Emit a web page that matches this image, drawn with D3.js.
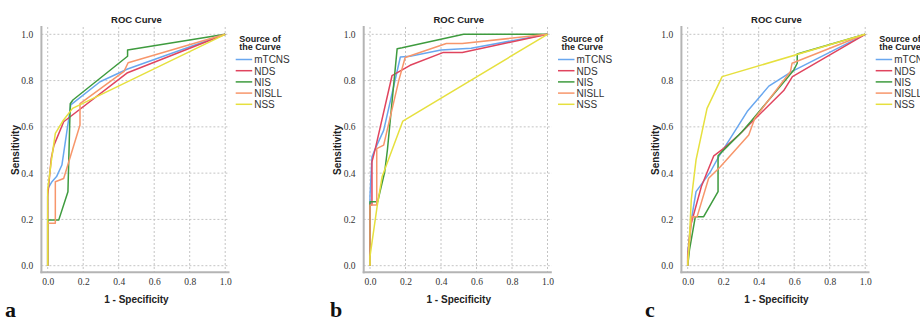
<!DOCTYPE html>
<html><head><meta charset="utf-8">
<script src="https://cdn.jsdelivr.net/npm/d3@7/dist/d3.min.js"></script>
<style>body{margin:0;background:#fff}svg{display:block}</style>
</head><body><svg id="c" width="920" height="320"></svg>
<script>
const seriesNames = ["mTCNS","NDS","NIS","NISLL","NSS"];
const seriesColors = ["#69a7ef","#e0445e","#3e9b3e","#f7966b","#e6e03e"];
const tickValues = [0,0.2,0.4,0.6,0.8,1.0];
const panelLetters = ["a","b","c"];

// Panel a  [1 - specificity, sensitivity]
const a_mTCNS = [[0,0],[0,0.33],[0.006,0.34],[0.024,0.363],[0.05,0.385],[0.08,0.435],[0.13,0.695],[0.295,0.795],[0.45,0.85],[1,1]];
const a_NDS   = [[0,0],[0,0.30],[0.02,0.464],[0.035,0.52],[0.09,0.622],[0.45,0.834],[1,1]];
const a_NIS   = [[0,0],[0,0.197],[0.062,0.197],[0.114,0.32],[0.127,0.70],[0.142,0.716],[0.45,0.905],[0.45,0.932],[1,1]];
const a_NISLL = [[0,0],[0,0.183],[0.043,0.183],[0.043,0.363],[0.09,0.377],[0.182,0.608],[0.182,0.70],[0.43,0.84],[0.453,0.877],[1,1]];
const a_NSS   = [[0,0],[0,0.33],[0.02,0.45],[0.043,0.572],[0.085,0.625],[0.14,0.68],[1,1]];
// Panel b
const b_mTCNS = [[0,0],[0,0.30],[0.011,0.47],[0.03,0.506],[0.077,0.585],[0.171,0.902],[0.226,0.905],[0.40,0.932],[0.57,0.94],[1,1]];
const b_NDS   = [[0,0],[0,0.262],[0.011,0.262],[0.011,0.449],[0.03,0.506],[0.124,0.821],[0.226,0.866],[0.41,0.921],[0.52,0.921],[1,1]];
const b_NIS   = [[0,0],[0,0.276],[0.043,0.276],[0.083,0.406],[0.098,0.50],[0.153,0.938],[0.181,0.942],[0.527,1],[1,1]];
const b_NISLL = [[0,0],[0,0.262],[0.038,0.262],[0.038,0.506],[0.077,0.521],[0.162,0.80],[0.198,0.90],[0.43,0.96],[0.52,0.96],[1,1]];
const b_NSS   = [[0,0],[0,0.04],[0.04,0.255],[0.068,0.384],[0.185,0.625],[1,1]];
// Panel c
const c_mTCNS = [[0,0],[0,0.05],[0.021,0.2],[0.047,0.32],[0.081,0.356],[0.128,0.406],[0.175,0.471],[0.335,0.666],[0.457,0.776],[0.588,0.84],[1,1]];
const c_NDS   = [[0,0],[0,0.04],[0.015,0.169],[0.077,0.342],[0.147,0.475],[0.203,0.507],[0.288,0.565],[0.363,0.622],[0.541,0.757],[0.59,0.817],[1,1]];
const c_NIS   = [[0,0],[0.01,0.068],[0.043,0.212],[0.09,0.212],[0.171,0.32],[0.171,0.475],[0.212,0.507],[0.306,0.579],[0.363,0.63],[0.598,0.846],[0.617,0.875],[0.617,0.915],[1,1]];
const c_NISLL = [[0,0],[0,0.024],[0.024,0.212],[0.053,0.212],[0.118,0.378],[0.184,0.428],[0.344,0.565],[0.378,0.637],[0.579,0.839],[0.588,0.875],[1,1]];
const c_NSS   = [[0,0],[0.009,0.11],[0.02,0.284],[0.047,0.457],[0.109,0.68],[0.194,0.817],[1,1]];

const panels = [
  {x0:47.7, letter:panelLetters[0], letterX:5, series:[a_mTCNS,a_NDS,a_NIS,a_NISLL,a_NSS]},
  {x0:370,  letter:panelLetters[1], letterX:330, series:[b_mTCNS,b_NDS,b_NIS,b_NISLL,b_NSS]},
  {x0:687.7,letter:panelLetters[2], letterX:645, series:[c_mTCNS,c_NDS,c_NIS,c_NISLL,c_NSS]}
];

const svg = d3.select("#c");
const W = 177.5, yTop = 34.3, yBot = 265.7, plotTop = 27, axisY = 272.3;
const sans = "'Liberation Sans', Arial, sans-serif";
const serif = "'Liberation Serif', 'Times New Roman', serif";

panels.forEach(p => {
  const x = d3.scaleLinear().domain([0,1]).range([p.x0, p.x0 + W]);
  const y = d3.scaleLinear().domain([0,1]).range([yBot, yTop]);
  const axisX = p.x0 - 6.3, right = p.x0 + W + 4.3;
  const g = svg.append("g");

  // grid
  g.selectAll(".gx").data(tickValues).join("line")
    .attr("x1", d=>x(d)).attr("x2", d=>x(d)).attr("y1", plotTop).attr("y2", axisY)
    .attr("stroke","#c4c4c4").attr("stroke-dasharray","2,2").attr("stroke-width",1);
  g.selectAll(".gy").data(tickValues).join("line")
    .attr("x1", axisX).attr("x2", right).attr("y1", d=>y(d)).attr("y2", d=>y(d))
    .attr("stroke","#c4c4c4").attr("stroke-dasharray","2,2").attr("stroke-width",1);

  // axis lines
  g.append("line").attr("x1",axisX).attr("x2",axisX).attr("y1",plotTop-1).attr("y2",axisY+1)
    .attr("stroke","#b4b4b4").attr("stroke-width",2);
  g.append("line").attr("x1",axisX-1).attr("x2",right).attr("y1",axisY).attr("y2",axisY)
    .attr("stroke","#b4b4b4").attr("stroke-width",2);

  // tick labels via d3 axes
  const ax = g.append("g").attr("transform",`translate(0,${axisY})`)
    .call(d3.axisBottom(x).tickValues(tickValues).tickFormat(d3.format(".1f")).tickSize(0).tickPadding(6));
  ax.select(".domain").remove();
  ax.attr("font-family",serif);
  ax.selectAll("text").style("font-family",serif).attr("font-size","9.5px").attr("fill","#333");
  const ay = g.append("g").attr("transform",`translate(${p.x0-14.5},0)`)
    .call(d3.axisLeft(y).tickValues(tickValues).tickFormat(d3.format(".1f")).tickSize(0).tickPadding(0));
  ay.select(".domain").remove();
  ay.attr("font-family",serif);
  ay.selectAll("text").style("font-family",serif).attr("font-size","9.5px").attr("fill","#333");

  // curves
  const line = d3.line().x(d=>x(d[0])).y(d=>y(d[1]));
  p.series.forEach((s,i) => {
    g.append("path").attr("d", line(s)).attr("fill","none")
      .attr("stroke", seriesColors[i]).attr("stroke-width",1.5).attr("stroke-linejoin","round");
  });

  // titles
  g.append("text").attr("x", p.x0 + W/2).attr("y", 22.5).attr("text-anchor","middle")
    .attr("font-family",sans).attr("font-weight","bold").attr("font-size","9.5px").attr("fill","#222").text("ROC Curve");
  g.append("text").attr("x", p.x0 + W/2).attr("y", 302.5).attr("text-anchor","middle")
    .attr("font-family",sans).attr("font-weight","bold").attr("font-size","10px").attr("fill","#222").text("1 - Specificity");
  g.append("text").attr("transform",`translate(${p.x0-29},150) rotate(-90)`).attr("text-anchor","middle")
    .attr("font-family",sans).attr("font-weight","bold").attr("font-size","10px").attr("fill","#222").text("Sensitivity");

  // legend
  const lx = p.x0 + W;
  g.append("text").attr("x", lx+34.7).attr("y", 41.5).attr("text-anchor","middle")
    .attr("font-family",sans).attr("font-weight","bold").attr("font-size","9px").attr("fill","#222").text("Source of");
  g.append("text").attr("x", lx+34.7).attr("y", 50).attr("text-anchor","middle")
    .attr("font-family",sans).attr("font-weight","bold").attr("font-size","9px").attr("fill","#222").text("the Curve");
  seriesNames.forEach((n,i) => {
    const ry = 59.5 + i*11.2;
    g.append("line").attr("x1",lx+10.5).attr("x2",lx+27).attr("y1",ry).attr("y2",ry)
      .attr("stroke",seriesColors[i]).attr("stroke-width",1.5);
    g.append("text").attr("x",lx+29).attr("y",ry+3.8).attr("font-family",sans).attr("font-size","10px")
      .attr("fill","#333").text(n);
  });

  // panel letter
  svg.append("text").attr("x",p.letterX).attr("y",317).attr("font-family",serif).attr("font-weight","bold")
    .attr("font-size","22px").attr("fill","#111").text(p.letter);
});
</script></body></html>
